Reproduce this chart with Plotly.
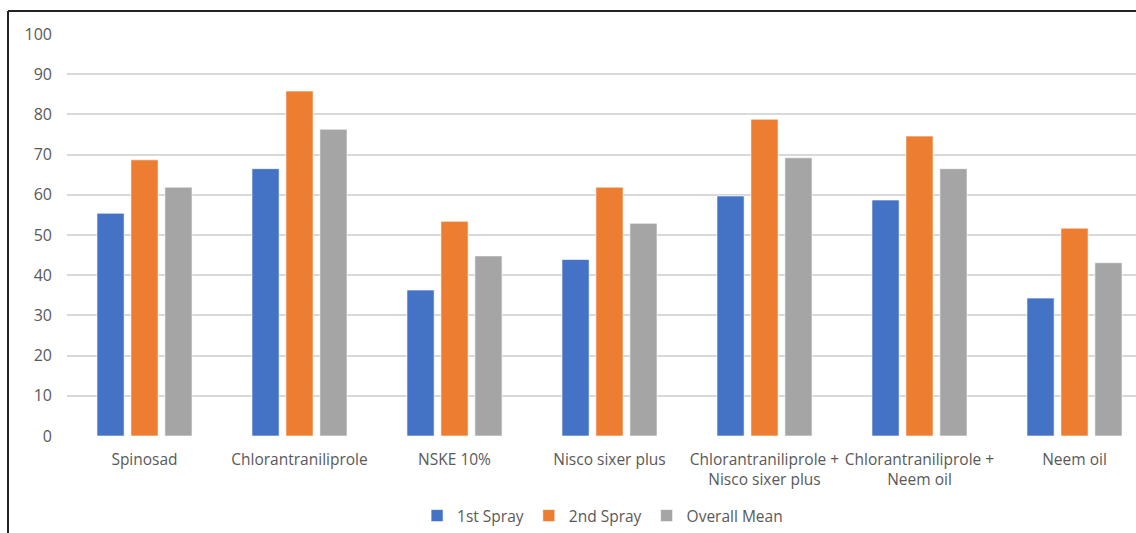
import plotly.graph_objects as go

categories = [
    "Spinosad",
    "Chlorantraniliprole",
    "NSKE 10%",
    "Nisco sixer plus",
    "Chlorantraniliprole +<br>Nisco sixer plus",
    "Chlorantraniliprole +<br>Neem oil",
    "Neem oil",
]
spray1 = [55.4, 66.5, 36.3, 43.9, 59.7, 58.7, 34.3]
spray2 = [68.7, 85.8, 53.4, 61.9, 78.8, 74.6, 51.7]
overall = [61.9, 76.3, 44.8, 52.9, 69.2, 66.5, 43.1]

series_names = ["1st Spray", "2nd Spray", "Overall Mean"]
series_colors = ["#4472C4", "#ED7D31", "#A5A5A5"]
y_ticks = [0, 10, 20, 30, 40, 50, 60, 70, 80, 90, 100]

W, H = 1136, 533
L, R, T, B = 67, 0, 34, 97
plot_w = W - L - R
plot_h = H - T - B

fig = go.Figure()
for name, vals, col in zip(series_names, [spray1, spray2, overall], series_colors):
    fig.add_trace(go.Bar(
        name=name, x=categories, y=vals,
        marker=dict(color=col, line=dict(color="rgba(255,255,255,0.6)", width=1)),
    ))

# the original plot area extends beyond the cropped right edge
cat_px = 155.0
right_crop = (1152 - 1136) / cat_px

font = "Open Sans, Noto Sans, sans-serif"
fig.update_layout(
    width=W, height=H,
    margin=dict(l=L, r=R, t=T, b=B),
    paper_bgcolor="white", plot_bgcolor="white",
    barmode="group", bargap=0.343, bargroupgap=0.2,
    font=dict(family=font, size=15.5, color="#595959"),
    showlegend=True,
    legend=dict(
        orientation="h", x=0.501, xanchor="center", y=(436 - 516) / plot_h, yanchor="middle",
        font=dict(size=15.5, color="#595959"), itemwidth=30, traceorder="normal",
        itemclick=False,
    ),
    xaxis=dict(
        range=[-0.5, 6.5 - right_crop], showgrid=False, showline=False, zeroline=False,
        ticks="", ticklabelstandoff=12, tickfont=dict(size=15.5, color="#595959"),
        fixedrange=True,
    ),
    yaxis=dict(
        range=[0, 100], tickvals=y_ticks, showgrid=True, gridcolor="#D9D9D9", gridwidth=1.5,
        zeroline=False, showline=False, ticks="", ticklabelstandoff=14,
        tickfont=dict(size=16, color="#595959"), fixedrange=True,
    ),
)

# outer chart frame (left and top borders visible in the crop)
fx = (8 - L) / plot_w
fy_top = 1 + (T - 11) / plot_h
fy_bot = -(B + 5) / plot_h
fx_right = 1 + 5 / plot_w
fig.add_shape(type="line", xref="paper", yref="paper", x0=fx, x1=fx, y0=fy_bot, y1=fy_top,
              line=dict(color="#222222", width=2))
fig.add_shape(type="line", xref="paper", yref="paper", x0=fx, x1=fx_right, y0=fy_top, y1=fy_top,
              line=dict(color="#222222", width=2))

fig.write_html("out.html", config={"displayModeBar": False})
